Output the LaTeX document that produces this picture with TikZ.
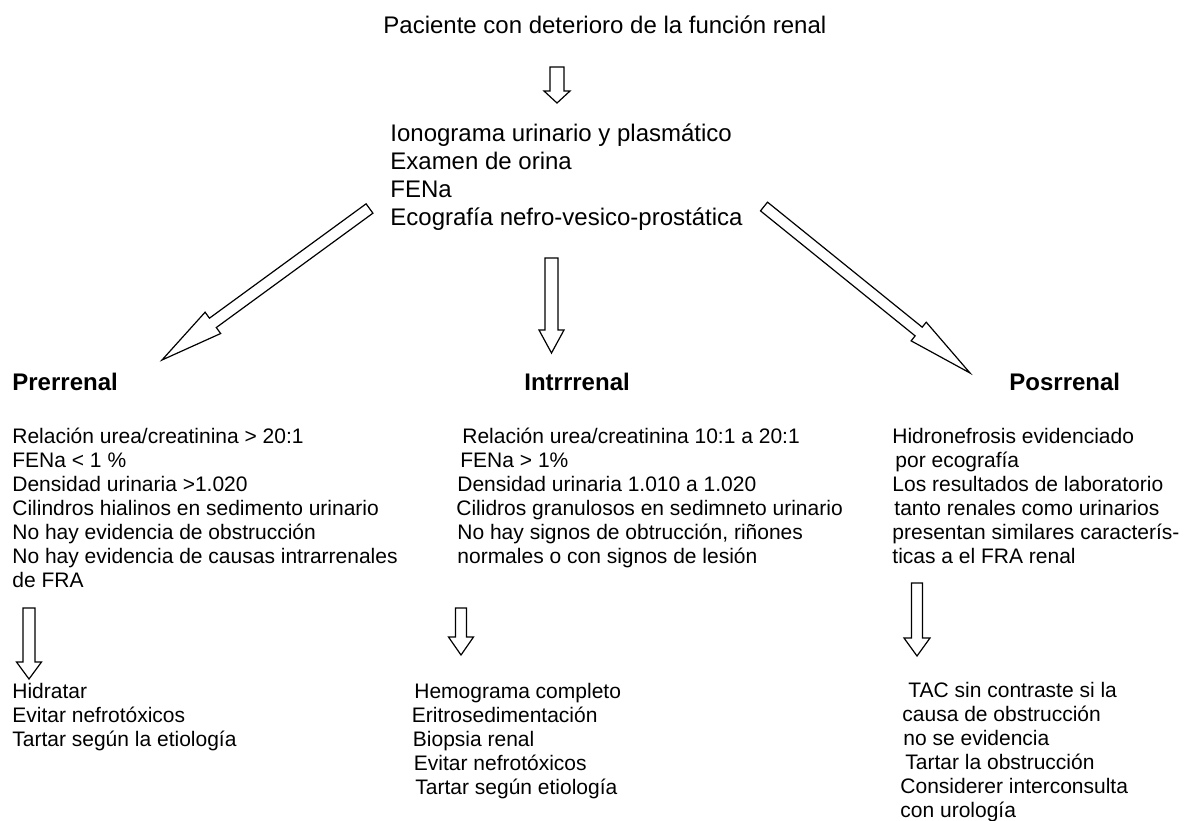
\documentclass[tikz,border=0pt]{standalone}
\usepackage{fontspec}
\setmainfont{Liberation Sans}
\usetikzlibrary{calc}

\tikzset{
    hollow/.style={draw=black, line width=0.6pt, fill=white, line join=miter},
    plain/.style={anchor=base west, inner sep=0pt, font=\fontsize{12}{14}\selectfont},
    heading/.style={anchor=base west, inner sep=0pt, font=\fontsize{12}{14}\selectfont\bfseries},
    listing/.style={anchor=base west, inner sep=0pt, font=\fontsize{10.5}{12}\selectfont}
}

% lines of a block, first baseline = node base
\newcommand{\blocklines}[1]{\begin{tabular}[t]{@{}l@{}}#1\end{tabular}}

% hollow block arrow: from, to, shaft half width, head half width, head length
\newcommand{\hollowarrow}[5]{%
    \draw[hollow] let \p1=(#1), \p2=(#2),
        \n1={atan2(\y2-\y1,\x2-\x1)}, \n2={veclen(\x2-\x1,\y2-\y1)} in
        [shift={(\p1)}, rotate=\n1]
        (0pt,#3) -- ({\n2*1pt-#5},#3) -- ({\n2*1pt-#5},#4) -- ({\n2*1pt},0pt)
        -- ({\n2*1pt-#5},-#4) -- ({\n2*1pt-#5},-#3) -- (0pt,-#3) -- cycle;}

\begin{document}
\begin{tikzpicture}[x=0.5pt, y=-0.5pt]
    \useasboundingbox (0,0) rectangle (1188,820);

    % top
    \node[plain] (paciente) at (383,33) {Paciente con deterioro de la función renal};
    \node[plain] (estudios) at (390,141) {\blocklines{Ionograma urinario y plasmático\\
        Examen de orina\\ FENa\\ Ecografía nefro-vesico-prostática}};

    % headings
    \node[heading] (prerrenal) at (12,390) {Prerrenal};
    \node[heading] (intrarrenal) at (524,390) {Intrrrenal};
    \node[heading] (posrrenal) at (1009,390) {Posrrenal};

    % findings
    \node[listing] (prelab) at (12,443) {\blocklines{Relación urea/creatinina > 20:1\\
        FENa < 1 \%\\ Densidad urinaria >1.020\\ Cilindros hialinos en sedimento urinario\\
        No hay evidencia de obstrucción\\ No hay evidencia de causas intrarrenales\\ de FRA}};
    \node[listing] (intralab) at (456,443) {\blocklines{\hspace{3pt}Relación urea/creatinina 10:1 a 20:1\\
        \hspace{2pt}FENa > 1\%\\ \hspace{0.5pt}Densidad urinaria 1.010 a 1.020\\
        Cilidros granulosos en sedimneto urinario\\ \hspace{0.5pt}No hay signos de obtrucción, riñones\\
        \hspace{0.5pt}normales o con signos de lesión}};
    \node[listing] (poslab) at (892,443) {\blocklines{Hidronefrosis evidenciado\\
        \hspace{1.5pt}por ecografía\\ Los resultados de laboratorio\\ \hspace{1pt}tanto renales como urinarios\\
        presentan similares caracterís-\\ ticas a el FRA renal}};

    % management
    \node[listing] (premanejo) at (12,698) {\blocklines{Hidratar\\ Evitar nefrotóxicos\\ Tartar según la etiología}};
    \node[listing] (intramanejo) at (411.5,698) {\blocklines{\hspace{1.25pt}Hemograma completo\\
        Eritrosedimentación\\ \hspace{0.5pt}Biopsia renal\\ \hspace{1pt}Evitar nefrotóxicos\\
        \hspace{1.75pt}Tartar según etiología}};
    \node[listing] (posmanejo) at (900,697) {\blocklines{\hspace{4pt}TAC sin contraste si la\\
        \hspace{1pt}causa de obstrucción\\ \hspace{1.5pt}no se evidencia\\ \hspace{2.5pt}Tartar la obstrucción\\
        Considerer interconsulta\\ con urología}};

    % arrow ends
    \coordinate (a0s) at (557,67);    \coordinate (a0e) at (557,103);
    \coordinate (a1s) at (369.5,208.5); \coordinate (a1e) at (162,360);
    \coordinate (a2s) at (551.5,258); \coordinate (a2e) at (551.5,353);
    \coordinate (a3s) at (764,206.5); \coordinate (a3e) at (970,373);
    \coordinate (a4s) at (29,608);    \coordinate (a4e) at (29,679);
    \coordinate (a5s) at (461,608);   \coordinate (a5e) at (461,655);
    \coordinate (a6s) at (917,583);   \coordinate (a6e) at (917,656);

    \hollowarrow{a0s}{a0e}{3.5pt}{6.5pt}{6pt}
    \hollowarrow{a1s}{a1e}{2.9pt}{6.6pt}{31.5pt}
    \hollowarrow{a2s}{a2e}{3.25pt}{6.25pt}{11.5pt}
    \hollowarrow{a3s}{a3e}{2.8pt}{6pt}{33pt}
    \hollowarrow{a4s}{a4e}{3pt}{6.25pt}{8.5pt}
    \hollowarrow{a5s}{a5e}{2.75pt}{6.25pt}{9pt}
    \hollowarrow{a6s}{a6e}{2.75pt}{6.5pt}{9pt}
\end{tikzpicture}
\end{document}
